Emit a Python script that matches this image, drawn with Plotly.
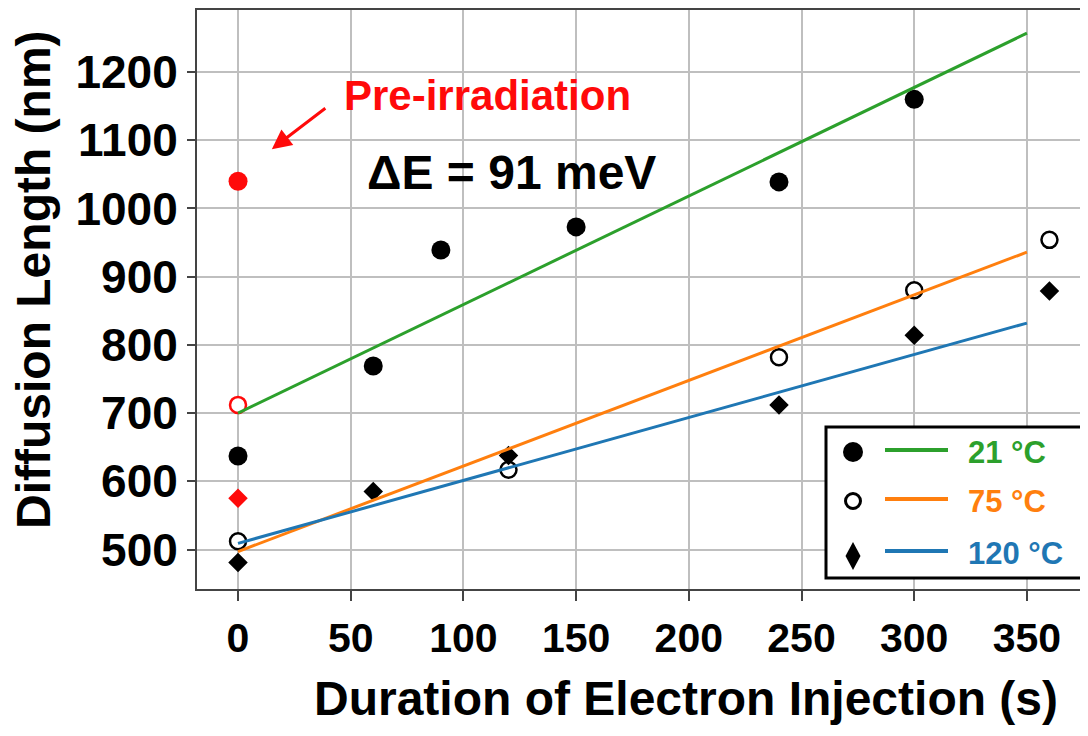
import plotly.graph_objects as go

# ---------------- data ----------------
t_21 = [0, 60, 90, 150, 240, 300]
L_21 = [637, 769, 939, 973, 1039, 1160]
t_75 = [0, 120, 240, 300, 360]
L_75 = [512, 617, 782, 880, 954]
t_120 = [0, 60, 120, 240, 300, 360]
L_120 = [481, 585, 638, 712, 814, 879]

# pre-irradiation values (at t = 0)
pre_t = [0]
pre_21 = [1040]
pre_75 = [712]
pre_120 = [575]

# fitted lines (end points)
fit_t = [0, 350]
fit_21 = [700, 1257]
fit_75 = [497, 936]
fit_120 = [509, 832]

x_ticks = [0, 50, 100, 150, 200, 250, 300, 350]
y_ticks = [500, 600, 700, 800, 900, 1000, 1100, 1200]
legend_labels = ["21 °C", "75 °C", "120 °C"]

GREEN = "#2ca02c"
ORANGE = "#ff7f0e"
BLUE = "#1f77b4"
RED = "#ff0a0a"

# page has an 8px body margin: figure is drawn from (8, 8)
OFF = 8
W, H = 1088 - OFF, 736 - OFF
# plot area in window pixels
PL, PR, PT, PB = 197, 1088, 10, 589


def px(x):
    return (x - PL) / (PR - PL)


def py(y):
    return (PB - y) / (PB - PT)


fig = go.Figure()

# markers
fig.add_trace(go.Scatter(x=t_21, y=L_21, mode="markers",
                         marker=dict(symbol="circle", size=19, color="black"),
                         showlegend=False))
fig.add_trace(go.Scatter(x=t_75, y=L_75, mode="markers",
                         marker=dict(symbol="circle", size=16, color="white",
                                     line=dict(color="black", width=2.5)),
                         showlegend=False))
fig.add_trace(go.Scatter(x=t_120, y=L_120, mode="markers",
                         marker=dict(symbol="diamond", size=15, color="black"),
                         showlegend=False))
fig.add_trace(go.Scatter(x=pre_t, y=pre_21, mode="markers",
                         marker=dict(symbol="circle", size=19, color=RED),
                         showlegend=False))
fig.add_trace(go.Scatter(x=pre_t, y=pre_75, mode="markers",
                         marker=dict(symbol="circle", size=16, color="white",
                                     line=dict(color=RED, width=2.5)),
                         showlegend=False))
fig.add_trace(go.Scatter(x=pre_t, y=pre_120, mode="markers",
                         marker=dict(symbol="diamond", size=15, color=RED),
                         showlegend=False))

# fit lines
for ys, col in [(fit_21, GREEN), (fit_75, ORANGE), (fit_120, BLUE)]:
    fig.add_trace(go.Scatter(x=fit_t, y=ys, mode="lines",
                             line=dict(color=col, width=3), showlegend=False))

# ---------------- custom legend ----------------
shapes = []
shapes.append(dict(type="rect", xref="paper", yref="paper",
                   x0=px(826), x1=px(1085), y0=py(578), y1=py(427),
                   line=dict(color="black", width=3), fillcolor="white",
                   layer="above"))
rows = [452, 501, 553]
cols = [GREEN, ORANGE, BLUE]
shapes.append(dict(type="circle", xref="paper", yref="paper",
                   xsizemode="pixel", ysizemode="pixel",
                   xanchor=px(853), yanchor=py(rows[0]),
                   x0=-10, x1=10, y0=-10, y1=10,
                   fillcolor="black", line=dict(width=0), layer="above"))
shapes.append(dict(type="circle", xref="paper", yref="paper",
                   xsizemode="pixel", ysizemode="pixel",
                   xanchor=px(853), yanchor=py(rows[1]),
                   x0=-7.5, x1=7.5, y0=-7.5, y1=7.5,
                   fillcolor="white", line=dict(width=3, color="black"),
                   layer="above"))
shapes.append(dict(type="path", xref="paper", yref="paper",
                   xsizemode="pixel", ysizemode="pixel",
                   xanchor=px(853), yanchor=py(rows[2] + 3),
                   path="M0,14 L7.5,0 L0,-14 L-7.5,0 Z",
                   fillcolor="black", line=dict(width=0), layer="above"))
for r, c in zip(rows, cols):
    shapes.append(dict(type="line", xref="paper", yref="paper",
                       x0=px(885), x1=px(948), y0=py(r - 2), y1=py(r - 2),
                       line=dict(color=c, width=4), layer="above"))

annotations = []
for r, c, lab in zip(rows, cols, legend_labels):
    annotations.append(dict(xref="paper", yref="paper", x=px(966), y=py(r),
                            xanchor="left", yanchor="middle", showarrow=False,
                            text=lab,
                            font=dict(family="Liberation Sans, Arial", size=31,
                                      color=c, weight="bold")))

# text annotations
annotations.append(dict(xref="paper", yref="paper", x=px(487), y=py(95),
                        xanchor="center", yanchor="middle", showarrow=False,
                        text="Pre-irradiation",
                        font=dict(family="Liberation Sans, Arial", size=42,
                                  color=RED, weight="bold")))
annotations.append(dict(xref="x", yref="y", x=15.0, y=1087,
                        ax=55, ay=-42, axref="pixel", ayref="pixel",
                        text="", showarrow=True, arrowhead=2, arrowsize=1.3,
                        arrowwidth=3, arrowcolor=RED))
annotations.append(dict(xref="paper", yref="paper", x=px(511), y=py(173),
                        xanchor="center", yanchor="middle", showarrow=False,
                        text="ΔE = 91 meV",
                        font=dict(family="Liberation Sans, Arial", size=48,
                                  color="black", weight="bold")))
# axis titles
annotations.append(dict(xref="paper", yref="paper", x=px(686), y=py(698),
                        xanchor="center", yanchor="middle", showarrow=False,
                        text="Duration of Electron Injection (s)",
                        font=dict(family="Liberation Sans, Arial", size=48,
                                  color="black", weight="bold")))
annotations.append(dict(xref="paper", yref="paper", x=px(33), y=py(280),
                        xanchor="center", yanchor="middle", showarrow=False,
                        textangle=-90,
                        text="Diffusion Length (nm)",
                        font=dict(family="Liberation Sans, Arial", size=48,
                                  color="black", weight="bold")))

fig.update_layout(
    width=W, height=H,
    margin=dict(l=PL - OFF, r=0, t=PT - OFF, b=(736 - PB), pad=0),
    plot_bgcolor="white", paper_bgcolor="white",
    shapes=shapes, annotations=annotations,
    showlegend=False,
)
fig.update_xaxes(range=[-18.2, 377.1], tickvals=x_ticks,
                 ticktext=[str(v) for v in x_ticks],
                 showgrid=True, gridcolor="#bfbfbf", gridwidth=2,
                 zeroline=False, showline=True, linecolor="#444444",
                 linewidth=2, mirror=True,
                 ticks="outside", ticklen=10, tickwidth=2, tickcolor="#444444",
                 ticklabelstandoff=2,
                 tickfont=dict(family="Liberation Sans, Arial",
                               size=41, color="black", weight="bold"))
fig.update_yaxes(range=[442.1, 1291], tickvals=y_ticks,
                 ticktext=[str(v) for v in y_ticks],
                 showgrid=True, gridcolor="#bfbfbf", gridwidth=2,
                 zeroline=False, showline=True, linecolor="#444444",
                 linewidth=2, mirror=False,
                 ticks="outside", ticklen=8, tickwidth=2, tickcolor="#444444",
                 tickfont=dict(family="Liberation Sans, Arial", size=46,
                               color="black", weight="bold"))

fig.write_html("out.html")
